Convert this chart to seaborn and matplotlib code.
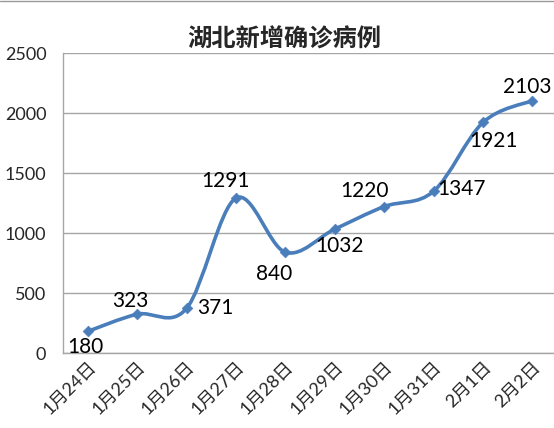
import numpy as np
import pandas as pd
import matplotlib
matplotlib.use("Agg")
import matplotlib.pyplot as plt
from matplotlib.path import Path
from matplotlib.patches import PathPatch
from matplotlib.lines import Line2D
import seaborn as sns

# data
dates = ["1月24日", "1月25日", "1月26日", "1月27日", "1月28日",
         "1月29日", "1月30日", "1月31日", "2月1日", "2月2日"]
new_cases = [180, 323, 371, 1291, 840, 1032, 1220, 1347, 1921, 2103]
title = "湖北新增确诊病例"

# where each value label sits relative to its point (pixels)
label_offsets = [(-2, -16), (-7, 13), (29, 0), (-10, 17), (-11, -22),
                 (5, -17), (-20, 16), (28, 2), (11, -19), (-5, 14)]

df = pd.DataFrame({"date": dates, "cases": new_cases})
df["pos"] = np.arange(len(df))

sns.set_theme(style="white")
plt.rcParams["font.family"] = ["Lato", "Noto Sans CJK SC", "DejaVu Sans"]

line_color = "#4A7EBB"
grid_color = "#A6A6A6"

fig = plt.figure(figsize=(5.54, 4.28), dpi=100)
ax = fig.add_axes([63 / 554, 1 - 353 / 428, 494 / 554, 300 / 428])

# smoothed line (catmull-rom as bezier, like excel's smooth line)
x = df["pos"].to_numpy(float)
y = df["cases"].to_numpy(float)
pts = np.column_stack([x, y])
ext = np.vstack([pts[0], pts, pts[-1]])
verts = [tuple(pts[0])]
codes = [Path.MOVETO]
for i in range(len(pts) - 1):
    p0, p1, p2, p3 = ext[i], ext[i + 1], ext[i + 2], ext[i + 3]
    c1 = p1 + (p2 - p0) / 6
    c2 = p2 - (p3 - p1) / 6
    verts += [tuple(c1), tuple(c2), tuple(p2)]
    codes += [Path.CURVE4] * 3
ax.add_patch(PathPatch(Path(verts, codes), facecolor="none",
                       edgecolor=line_color, lw=2.6, zorder=3,
                       capstyle="round", joinstyle="round"))

sns.scatterplot(data=df, x="pos", y="cases", marker="D", s=30,
                color=line_color, edgecolor=line_color, zorder=4, ax=ax,
                legend=False)

for xi, yi, (dx, dy) in zip(x, y, label_offsets):
    ax.annotate(f"{int(yi)}", (xi, yi), xytext=(dx, dy),
                textcoords="offset pixels", ha="center", va="center",
                fontsize=15, color="black", zorder=5)

ax.set_xlim(-0.5, len(dates) - 0.5)
ax.set_ylim(0, 2500)
ax.set_yticks([0, 500, 1000, 1500, 2000, 2500])
ax.set_xticks(df["pos"])
ax.set_xticklabels(dates, rotation=45, ha="right", rotation_mode="anchor")
ax.tick_params(axis="y", length=0, pad=12, labelsize=13)
ax.tick_params(axis="x", length=0, pad=4, labelsize=13)
ax.set_xlabel("")
ax.set_ylabel("")
ax.grid(axis="y", color=grid_color, lw=1)
ax.set_axisbelow(True)
for side in ["top", "right"]:
    ax.spines[side].set_visible(False)
for side in ["left", "bottom"]:
    ax.spines[side].set_color(grid_color)
    ax.spines[side].set_linewidth(1)

fig.text(284 / 554, 1 - 40 / 428, title, ha="center", va="center",
         fontsize=17.5, fontweight="bold", family=["Noto Sans CJK SC"])
fig.add_artist(Line2D([0, 1], [0.998, 0.998], color="#999999", lw=1,
                      transform=fig.transFigure))

fig.savefig("out.png", dpi=100)
